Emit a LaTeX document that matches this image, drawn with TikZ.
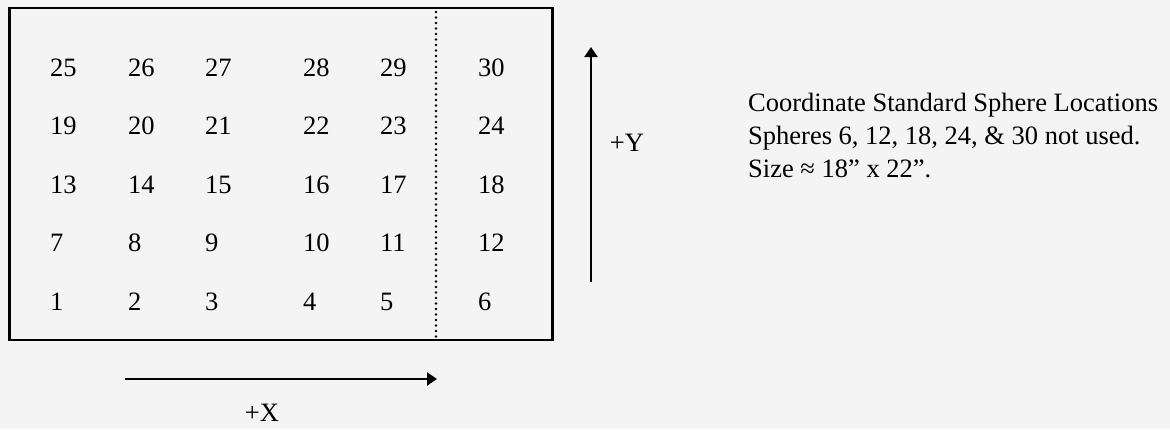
\documentclass[tikz,border=0pt]{standalone}
\usepackage{fontspec}
\setmainfont{Liberation Serif}
\usetikzlibrary{arrows.meta}
\definecolor{paper}{HTML}{F4F4F4}
\begin{document}
\begin{tikzpicture}[x=1pt,y=-1pt,
  num/.style={anchor=base west, inner sep=0pt, font=\fontsize{26.5}{32}\selectfont},
  lbl/.style={anchor=base, inner sep=0pt, font=\fontsize{26.5}{32}\selectfont},
  note/.style={anchor=base west, inner sep=0pt, font=\fontsize{26.5}{32}\selectfont},
  axis/.style={line width=2pt, -{Triangle[length=10pt,width=13pt]}},
  frame/.style={line width=2.6pt},
  divider/.style={line width=2.7pt, line cap=round, dash pattern=on 0pt off 5.5pt}]
% page
\fill[paper] (0,0) rectangle (1170,429);
\useasboundingbox (0,0) rectangle (1170,429);
% plate outline and the dotted divider before the last column
\coordinate (tl) at (9.5,8);
\coordinate (br) at (552.5,340);
\draw[frame] (tl) rectangle (br);
\coordinate (dt) at (436,12);
\coordinate (db) at (436,337);
\draw[divider] (dt) -- (db);
% sphere numbers, six per row, numbered from the bottom left
\foreach \r/\yb in {4/76, 3/134.5, 2/193, 1/251.5, 0/310}{
  \foreach \c/\xl in {1/50, 2/128, 3/205, 4/303, 5/380, 6/478}{
    \pgfmathtruncatemacro\n{6*\r+\c}
    \node[num] (n\n) at (\xl,\yb) {\n};
  }
}
% axes
\coordinate (xs) at (125,379);
\coordinate (xe) at (437,379);
\draw[axis] (xs) -- (xe);
\node[lbl] (xlab) at (262,421) {+X};
\coordinate (ys) at (591,282);
\coordinate (ye) at (591,47);
\draw[axis] (ys) -- (ye);
\node[lbl] (ylab) at (627,151) {+Y};
% notes
\node[note] (t1) at (748,111) {Coordinate Standard Sphere Locations};
\node[note] (t2) at (748,144) {Spheres 6, 12, 18, 24, \& 30 not used.};
\node[note] (t3) at (748,177) {Size ≈ 18” x 22”.};
\end{tikzpicture}
\end{document}
